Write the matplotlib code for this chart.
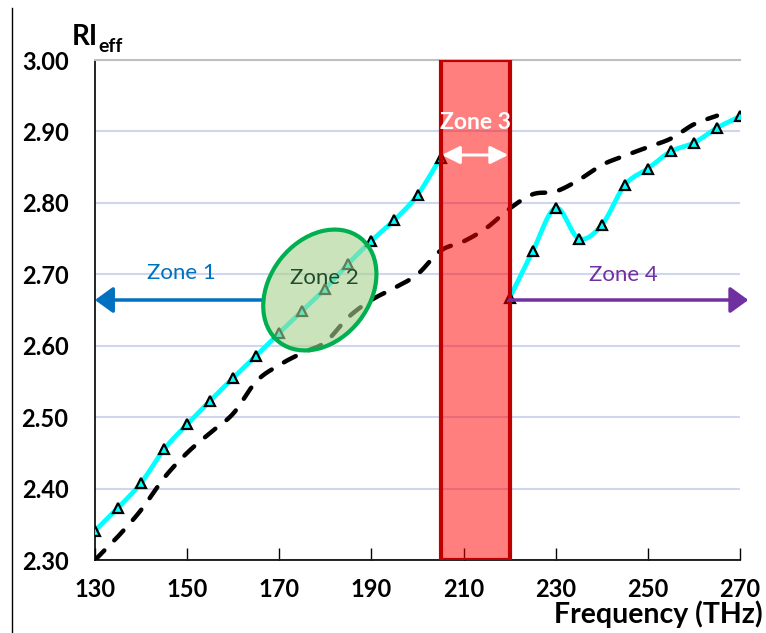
import numpy as np
import matplotlib
matplotlib.use('Agg')
import matplotlib.pyplot as plt
from matplotlib.patches import Rectangle, Ellipse
from matplotlib.lines import Line2D
from matplotlib.transforms import ScaledTranslation
from matplotlib.colors import to_rgba

plt.rcParams['font.family'] = ['Lato', 'DejaVu Sans']

# ===================== Data =====================
freq = [130, 135, 140, 145, 150, 155, 160, 165, 170, 175, 180, 185, 190, 195, 200,
        205, 210, 215, 220, 225, 230, 235, 240, 245, 250, 255, 260, 265, 270]

# cyan curve with markers (gap inside zone 3)
ri_sim = [2.341, 2.373, 2.408, 2.455, 2.490, 2.523, 2.555, 2.586, 2.618, 2.649,
          2.680, 2.715, 2.747, 2.776, 2.811, 2.863, np.nan, np.nan, 2.667, 2.732,
          2.793, 2.750, 2.769, 2.825, 2.848, 2.872, 2.884, 2.905, 2.921]

# black dashed curve
ri_ref = [2.300, 2.333, 2.370, 2.415, 2.450, 2.478, 2.505, 2.550, 2.573, 2.590,
          2.605, 2.640, 2.664, 2.681, 2.700, 2.733, 2.746, 2.765, 2.792, 2.812,
          2.816, 2.832, 2.853, 2.866, 2.878, 2.890, 2.910, 2.922, np.nan]

xticks = [130, 150, 170, 190, 210, 230, 250, 270]
yticks = [2.30, 2.40, 2.50, 2.60, 2.70, 2.80, 2.90, 3.00]

zone3 = (205, 220)
zone_arrow_y = 2.664


def smooth(x, y, n=16):
    # catmull-rom, like the excel "smoothed line" option
    x = np.asarray(x, float)
    y = np.asarray(y, float)
    xs, ys = [], []
    for i in range(len(x) - 1):
        i0 = max(i - 1, 0)
        i3 = min(i + 2, len(x) - 1)
        p0, p1, p2, p3 = [np.array([x[k], y[k]]) for k in (i0, i, i + 1, i3)]
        m1 = (p2 - p0) / 2 if i0 != i else (p2 - p1)
        m2 = (p3 - p1) / 2 if i3 != i + 1 else (p2 - p1)
        t = np.linspace(0, 1, n)[:, None]
        h00 = 2*t**3 - 3*t**2 + 1
        h10 = t**3 - 2*t**2 + t
        h01 = -2*t**3 + 3*t**2
        h11 = t**3 - t**2
        seg = h00*p1 + h10*m1 + h01*p2 + h11*m2
        xs.append(seg[:, 0])
        ys.append(seg[:, 1])
    return np.concatenate(xs), np.concatenate(ys)


def segments(x, y):
    x = np.asarray(x, float)
    y = np.asarray(y, float)
    ok = ~np.isnan(y)
    out, cur = [], []
    for xi, yi, o in zip(x, y, ok):
        if o:
            cur.append((xi, yi))
        elif cur:
            out.append(cur)
            cur = []
    if cur:
        out.append(cur)
    return out


# ===================== Figure =====================
fig = plt.figure(figsize=(7.66, 6.33), dpi=100)
ax = fig.add_axes([95/766, 73/633, 645/766, 500/633])

ax.set_xlim(130, 270)
ax.set_ylim(2.30, 3.00)

ax.set_yticks(yticks)
ax.set_yticklabels(['%.2f' % v for v in yticks], fontsize=17, fontweight='bold')
ax.set_xticks(xticks)
ax.set_xticklabels([str(v) for v in xticks], fontsize=17, fontweight='bold')
ax.tick_params(axis='x', direction='in', length=9, width=1, pad=13)
ax.tick_params(axis='y', length=0, pad=19)

ax.yaxis.grid(True, color='#D0D6EE', lw=1.5)
ax.set_axisbelow(True)
ax.spines['right'].set_visible(False)
ax.spines['top'].set_color('#BFBFBF')
ax.spines['top'].set_linewidth(1.5)
ax.spines['left'].set_linewidth(1.2)
ax.spines['bottom'].set_linewidth(1.2)

# dashed curve
for seg in segments(freq, ri_ref):
    sx, sy = smooth(*zip(*seg))
    ax.plot(sx, sy, color='black', lw=3.2, ls=(0, (3, 3.2)),
            dash_capstyle='round', zorder=3)

# cyan curve
for seg in segments(freq, ri_sim):
    sx, sy = smooth(*zip(*seg))
    ax.plot(sx, sy, color='#00FFFF', lw=3.4, zorder=4, solid_capstyle='round')
ax.plot(freq, ri_sim, ls='none', marker='^', ms=7, mfc='#00FFFF', mec='black',
        mew=1.6, zorder=5)

# zone 3 band
ax.add_patch(Rectangle((zone3[0], 2.30), zone3[1] - zone3[0], 0.70,
                       facecolor=(1, 0, 0, 0.5), edgecolor='#C00000', lw=3, zorder=6))
ax.annotate('', xy=(zone3[0] + 0.3, 2.867), xytext=(zone3[1] - 0.3, 2.867),
            arrowprops=dict(arrowstyle='<|-|>,head_length=0.6,head_width=0.3',
                            color='white', lw=2.2, mutation_scale=18,
                            shrinkA=0, shrinkB=0), zorder=7)
ax.text(212.5, 2.912, 'Zone 3', color='white', fontsize=16.5, fontweight='bold',
        ha='center', va='center', zorder=7)

# zone 1 arrow
ax.annotate('', xy=(130, zone_arrow_y), xytext=(166.2, zone_arrow_y),
            arrowprops=dict(arrowstyle='-|>,head_length=0.55,head_width=0.4',
                            color='#0070C0', lw=2.5, mutation_scale=20,
                            shrinkA=0, shrinkB=0),
            annotation_clip=False, zorder=6)
ax.text(148.7, 2.702, 'Zone 1', color='#0070C0', fontsize=16,
        ha='center', va='center', zorder=7)

# zone 4 arrow
ax.annotate('', xy=(271.8, zone_arrow_y), xytext=(220, zone_arrow_y),
            arrowprops=dict(arrowstyle='-|>,head_length=0.55,head_width=0.4',
                            color='#7030A0', lw=2.5, mutation_scale=20,
                            shrinkA=0, shrinkB=0),
            annotation_clip=False, zorder=6)
ax.text(244.6, 2.699, 'Zone 4', color='#7030A0', fontsize=16,
        ha='center', va='center', zorder=7)

# zone 2 ellipse (sized in pixels)
ell = Ellipse((0, 0), 132, 100, angle=52,
              facecolor=to_rgba('#A9D18E', 0.6), edgecolor='#00B050', lw=3,
              transform=ScaledTranslation(178.8, 2.678, ax.transData), zorder=6)
ax.add_patch(ell)
ax.text(179.7, 2.695, 'Zone 2', color='#1E4D2B', fontsize=16,
        ha='center', va='center', zorder=7)

# axis titles
fig.text(763/766, 1 - 623/633, 'Frequency (THz)', fontsize=20.5, fontweight='bold',
         ha='right', va='baseline')
fig.text(72/766, 1 - 45/633, 'RI', fontsize=20, fontweight='bold',
         ha='left', va='baseline')
fig.text(98/766, 1 - 52/633, 'eff', fontsize=14, fontweight='bold',
         ha='left', va='baseline')

# left border line of the original picture
fig.add_artist(Line2D([12/766, 12/766], [0, 1 - 8/633], color='black', lw=1))

fig.savefig('out.png', dpi=100)
